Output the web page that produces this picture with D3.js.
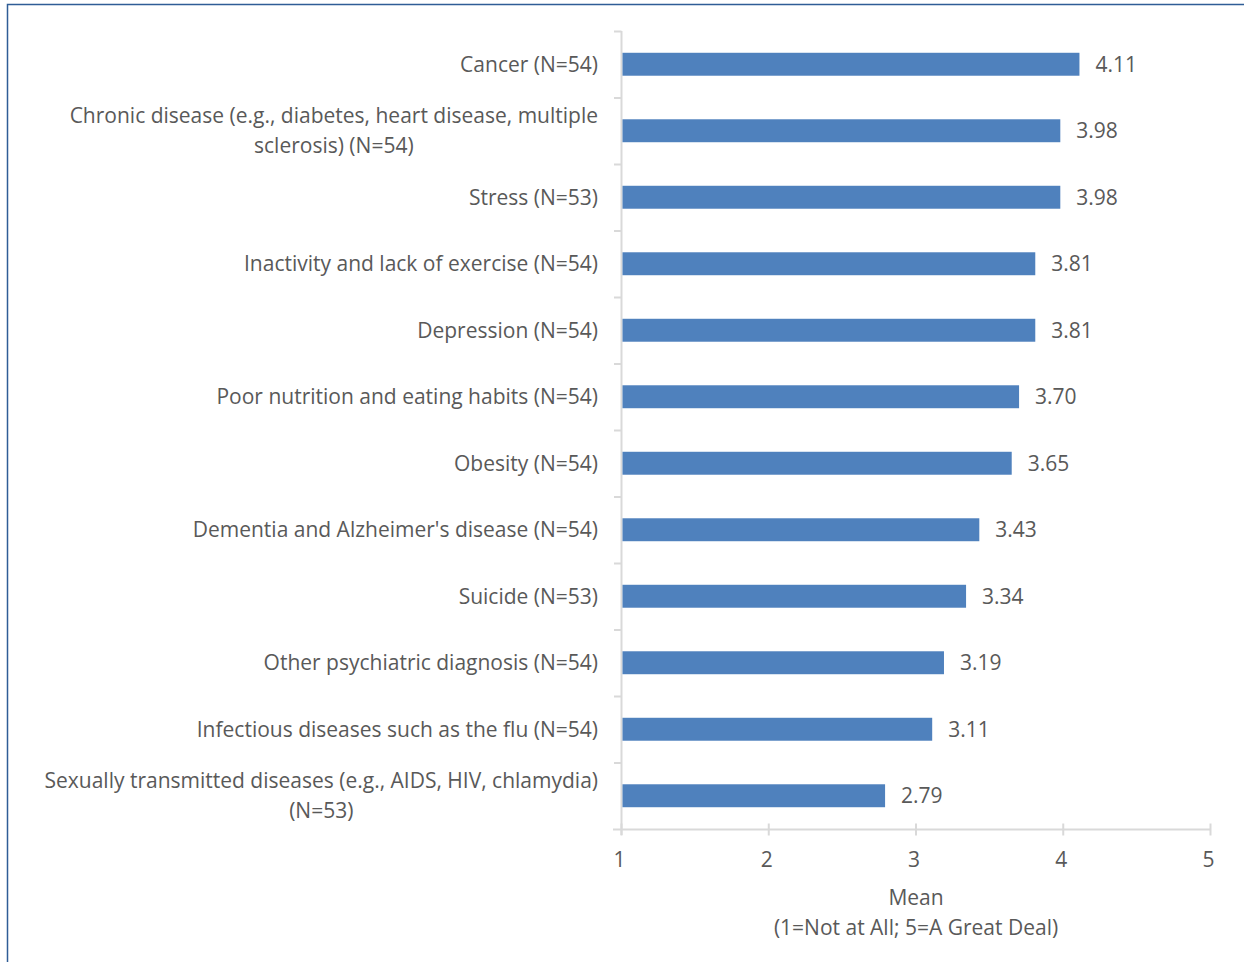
<!DOCTYPE html>
<html><head><meta charset="utf-8">
<script src="https://cdn.jsdelivr.net/npm/d3@7"></script>
<style>html,body{margin:0;padding:0;background:#fff;}svg{display:block;}</style>
</head><body>
<script>
const categories = [
  "Cancer (N=54)",
  "Chronic disease (e.g., diabetes, heart disease, multiple|sclerosis) (N=54)",
  "Stress (N=53)",
  "Inactivity and lack of exercise (N=54)",
  "Depression (N=54)",
  "Poor nutrition and eating habits (N=54)",
  "Obesity (N=54)",
  "Dementia and Alzheimer's disease (N=54)",
  "Suicide (N=53)",
  "Other psychiatric diagnosis (N=54)",
  "Infectious diseases such as the flu (N=54)",
  "Sexually transmitted diseases (e.g., AIDS, HIV, chlamydia)|(N=53)"
];
const values = [4.11, 3.98, 3.98, 3.81, 3.81, 3.70, 3.65, 3.43, 3.34, 3.19, 3.11, 2.79];
const xTicks = [1, 2, 3, 4, 5];
const axisTitle = ["Mean", "(1=Not at All; 5=A Great Deal)"];

const W = 1244, H = 962;
const font = "'Open Sans', sans-serif";
const fs = 21;
const textColor = "#595959";
const axisColor = "#d9d9d9";
const svg = d3.select("body").append("svg").attr("width", W).attr("height", H);

// frame
svg.append("path").attr("d", `M7.5,${H} V4.5 H${W}`).attr("fill","none")
  .attr("stroke","#2f5d96").attr("stroke-width",1.5);

const x = d3.scaleLinear().domain([1,5]).range([621.5,1210.5]);
const y = d3.scaleBand().domain(d3.range(categories.length)).range([31,829]).paddingInner(0.655).paddingOuter(0.3275);
const yb = d3.scaleBand().domain(d3.range(categories.length)).range([31,829]);

// y axis line + ticks at band boundaries
const gy = svg.append("g");
gy.append("line").attr("x1",621.5).attr("x2",621.5).attr("y1",31).attr("y2",835).attr("stroke",axisColor).attr("stroke-width",2);
d3.range(categories.length).forEach(i=>{
  gy.append("line").attr("x1",614).attr("x2",621.5).attr("y1",yb(i)+0.5).attr("y2",yb(i)+0.5).attr("stroke",axisColor).attr("stroke-width",2);
});

// x axis
const gx = svg.append("g").attr("transform","translate(0,829.5)");
gx.append("line").attr("x1",613).attr("x2",1210.5).attr("stroke",axisColor).attr("stroke-width",2);
xTicks.forEach(t=>{
  gx.append("line").attr("x1",x(t)).attr("x2",x(t)).attr("y1",-6).attr("y2",6).attr("stroke",axisColor).attr("stroke-width",2);
  gx.append("text").attr("x",x(t)-2).attr("y",37).attr("text-anchor","middle")
    .attr("font-family",font).attr("font-size",fs).attr("fill",textColor).text(t);
});

// bars
svg.append("g").selectAll("rect").data(values).join("rect")
  .attr("x", x(1)+1).attr("y",(d,i)=>y(i)).attr("height",y.bandwidth())
  .attr("width", d=>x(d)-x(1)-1).attr("fill","#4f81bd");

// value labels
svg.append("g").selectAll("text").data(values).join("text")
  .attr("x", d=>x(d)+16).attr("y",(d,i)=>y(i)+y.bandwidth()/2).attr("dy","0.36em")
  .attr("font-family",font).attr("font-size",fs).attr("fill",textColor)
  .text(d=>d.toFixed(2));

// category labels
const gl = svg.append("g");
categories.forEach((c,i)=>{
  const lines = c.split("|");
  const cy = yb(i)+yb.bandwidth()/2;
  const texts = lines.map((ln,j)=> gl.append("text")
    .attr("y", cy + (j-(lines.length-1)/2)*30).attr("dy","0.36em")
    .attr("font-family",font).attr("font-size",fs).attr("fill",textColor).text(ln));
  const widths = texts.map(t=>t.node().getComputedTextLength());
  const mw = Math.max(...widths);
  const center = 598 - mw/2;
  texts.forEach(t=>t.attr("x",center).attr("text-anchor","middle"));
});

// axis title
axisTitle.forEach((t,j)=>{
  svg.append("text").attr("x",916).attr("y",897+j*30).attr("dy","0.36em").attr("text-anchor","middle")
    .attr("font-family",font).attr("font-size",fs).attr("fill",textColor).text(t);
});
</script>
</body></html>
